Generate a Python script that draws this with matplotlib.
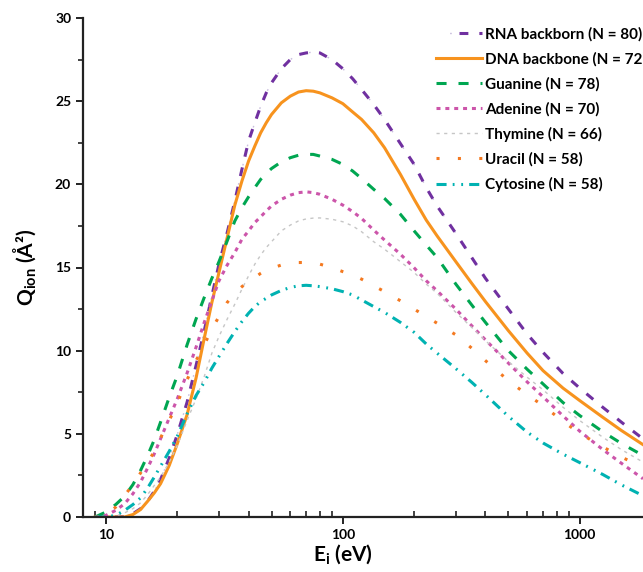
import matplotlib
matplotlib.use("Agg")
import matplotlib.pyplot as plt
from matplotlib.legend_handler import HandlerTuple

plt.rcParams['font.family'] = ['Lato', 'DejaVu Sans']
plt.rcParams['font.weight'] = 'bold'
plt.rcParams['mathtext.fontset'] = 'custom'
plt.rcParams['mathtext.rm'] = 'Lato:bold'
plt.rcParams['mathtext.bf'] = 'Lato:bold'
plt.rcParams['mathtext.it'] = 'Lato:bold'

# incident energy (eV)
energy = [9, 10, 11, 12, 13, 14, 15, 16, 17, 18.5,
          20, 22, 24, 26, 28, 30, 32.5, 35, 37.5, 40,
          42.5, 45, 47.5, 50, 55, 60, 65, 70, 75, 80,
          90, 100, 110, 120, 135, 150, 175, 200, 225, 250,
          300, 350, 400, 500, 600, 700, 850, 1000, 1250, 1500,
          1850]

# ionisation cross sections (A^2)
rna = [0, 0, 0, 0.02, 0.2, 0.5, 0.95, 1.55, 2.25, 3.55,
       4.95, 6.9, 9.1, 11.2, 13.3, 15.2, 17.1, 19.0, 20.9, 22.6,
       23.7, 24.7, 25.5, 26.1, 26.95, 27.5, 27.8, 27.9, 27.95, 27.9,
       27.5, 26.95, 26.35, 25.7, 24.8, 23.9, 22.45, 21.2, 19.8, 18.7,
       17.05, 15.6, 14.35, 12.5, 11.0, 9.9, 8.63, 7.75, 6.6, 5.7,
       4.7]
dna = [0, 0, 0, 0, 0.15, 0.45, 0.95, 1.45, 2.0, 3.1,
       4.4, 6.15, 8.35, 10.75, 12.9, 14.7, 16.8, 18.75, 20.2, 21.4,
       22.3, 23.1, 23.7, 24.2, 24.9, 25.3, 25.55, 25.63, 25.6, 25.5,
       25.2, 24.85, 24.35, 23.9, 23.1, 22.2, 20.6, 19.1, 17.85, 16.9,
       15.35, 14.05, 12.95, 11.2, 9.85, 8.8, 7.75, 7.0, 6.0, 5.2,
       4.35]
guanine = [0.0, 0.3, 0.75, 1.25, 1.95, 2.8, 3.7, 4.65, 5.7, 7.2,
           8.5, 10.35, 11.9, 13.2, 14.35, 15.35, 16.6, 17.8, 18.6, 19.25,
           19.8, 20.3, 20.65, 20.95, 21.35, 21.6, 21.75, 21.8, 21.8, 21.7,
           21.5, 21.2, 20.8, 20.35, 19.7, 19.15, 18.2, 17.2, 16.35, 15.6,
           14.0, 12.75, 11.7, 10.0, 8.88, 8.0, 6.88, 6.1, 5.13, 4.42,
           3.7]
adenine = [0.0, 0.1, 0.4, 0.8, 1.4, 2.1, 2.95, 3.8, 4.7, 5.95,
           7.1, 8.65, 10.2, 11.7, 13.0, 14.2, 15.15, 15.9, 16.7, 17.2,
           17.7, 18.05, 18.4, 18.7, 19.1, 19.35, 19.5, 19.55, 19.5, 19.4,
           19.1, 18.75, 18.36, 17.95, 17.25, 16.65, 15.8, 14.98, 14.2, 13.6,
           12.5, 11.5, 10.65, 9.25, 8.12, 7.23, 6.08, 5.16, 4.06, 3.23,
           2.3]
thymine = [0, 0, 0.05, 0.25, 0.5, 0.85, 1.35, 1.9, 2.4, 3.3,
           4.3, 5.8, 7.1, 8.45, 9.85, 10.85, 11.9, 12.8, 13.7, 14.5,
           15.2, 15.75, 16.2, 16.55, 17.2, 17.55, 17.8, 17.92, 17.97, 17.98,
           17.9, 17.75, 17.5, 17.15, 16.55, 16.1, 15.35, 14.7, 14.0, 13.45,
           12.3, 11.4, 10.6, 9.35, 8.4, 7.65, 6.6, 5.8, 4.8, 4.05,
           3.3]
uracil = [0.0, 0.1, 0.6, 1.3, 1.95, 2.65, 3.3, 3.93, 4.75, 5.8,
          6.85, 8.25, 9.4, 10.35, 11.3, 12.05, 12.9, 13.45, 13.85, 14.15,
          14.4, 14.65, 14.85, 14.95, 15.15, 15.25, 15.3, 15.3, 15.25, 15.2,
          15.0, 14.75, 14.55, 14.3, 13.9, 13.55, 13.0, 12.5, 12.05, 11.65,
          10.95, 10.15, 9.4, 8.2, 7.35, 6.7, 5.75, 5.03, 4.22, 3.6,
          3.0]
cytosine = [0, 0, 0.1, 0.4, 0.75, 1.15, 1.75, 2.4, 3.05, 3.95,
            4.85, 6.2, 7.3, 8.1, 8.95, 9.65, 10.45, 11.15, 11.75, 12.25,
            12.65, 12.95, 13.15, 13.35, 13.62, 13.8, 13.9, 13.93, 13.9, 13.85,
            13.72, 13.55, 13.35, 13.05, 12.65, 12.3, 11.7, 11.1, 10.4, 9.85,
            8.92, 8.1, 7.35, 6.05, 5.1, 4.45, 3.78, 3.27, 2.56, 1.93,
            1.28]

labels = ['RNA backborn (N = 80)', 'DNA backbone (N = 72)', 'Guanine (N = 78)',
          'Adenine (N = 70)', 'Thymine (N = 66)', 'Uracil (N = 58)', 'Cytosine (N = 58)']

fig = plt.figure(figsize=(6.43, 5.72), dpi=100)
ax = fig.add_axes([83 / 643, 55 / 572, 560 / 643, 499 / 572])

lw = 2.2
# RNA: purple dashes with a faint dot in every gap
h_rna_dot, = ax.plot(energy, rna, color='#c9bedd', lw=1.0, linestyle=(4.4, (1.2, 13.0)))
h_rna, = ax.plot(energy, rna, color='#7030a0', lw=lw, dashes=(2.9, 3.6))
h_dna, = ax.plot(energy, dna, color='#f7931e', lw=lw)
h_gua, = ax.plot(energy, guanine, color='#00a651', lw=lw, dashes=(3.3, 3.9))
h_ade, = ax.plot(energy, adenine, color='#cc55aa', lw=lw, dashes=(1.3, 1.6))
h_thy, = ax.plot(energy, thymine, color='#c6c6c6', lw=1.0, dashes=(2.3, 3.2))
h_ura, = ax.plot(energy, uracil, color='#f47920', lw=lw, dashes=(1.0, 6.0))
h_cyt, = ax.plot(energy, cytosine, color='#00b2b2', lw=lw,
                 dashes=(3.3, 2.0, 0.6, 2.2, 0.6, 2.0))

ax.set_xscale('log')
ax.set_xlim(8.0, 1850)
ax.set_ylim(0, 30)

for side in ['top', 'right']:
    ax.spines[side].set_visible(False)
for side in ['left', 'bottom']:
    ax.spines[side].set_linewidth(1.6)
    ax.spines[side].set_color('#222222')

ax.set_xticks([10, 100, 1000])
ax.set_xticklabels(['10', '100', '1000'])
ax.set_yticks([0, 5, 10, 15, 20, 25, 30])
ax.set_yticks([2.5, 7.5, 12.5, 17.5, 22.5, 27.5], minor=True)
ax.tick_params(axis='both', which='major', labelsize=10, width=1.4, length=5,
               color='#222222', direction='out')
ax.tick_params(axis='x', which='minor', direction='in', length=4, width=1.2,
               color='#222222', labelbottom=False)
ax.tick_params(axis='y', which='minor', direction='out', length=3.5, width=1.2,
               color='#222222')
for t in ax.get_xticklabels() + ax.get_yticklabels():
    t.set_fontweight('bold')

ax.set_xlabel(r'E$_\mathregular{i}$ (eV)', fontsize=15, fontweight='bold')
ax.xaxis.set_label_coords((343 - 83) / 560, -0.05)
ax.set_ylabel(r'Q$_\mathregular{ion}$ (Å²)', fontsize=15, fontweight='bold')
ax.yaxis.set_label_coords(-0.08, 0.5)

handles = [(h_rna_dot, h_rna), h_dna, h_gua, h_ade, h_thy, h_ura, h_cyt]
ax.legend(handles, labels, loc='upper left', bbox_to_anchor=(436 / 643, 1 - 27 / 572),
          bbox_transform=fig.transFigure, frameon=False,
          handlelength=3.0, handletextpad=0.2, labelspacing=0.68, borderpad=0,
          borderaxespad=0, handler_map={tuple: HandlerTuple(ndivide=None)},
          prop={'weight': 'bold', 'size': 11})

fig.savefig('out.png', dpi=100)
